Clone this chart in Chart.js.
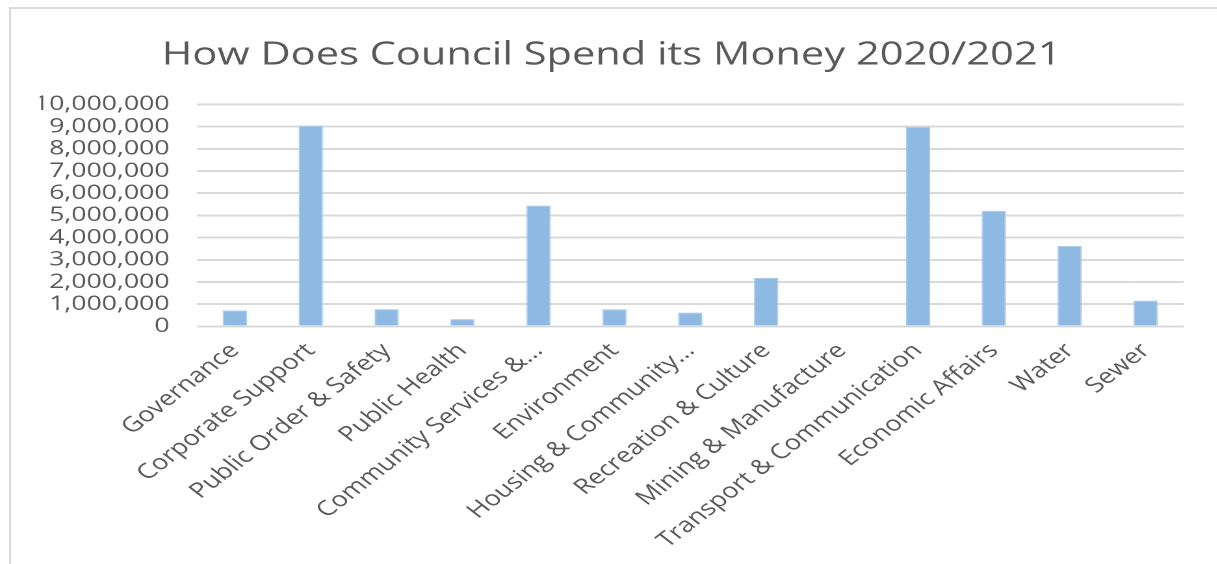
<!DOCTYPE html>
<html>
<head>
<meta charset="utf-8">
<script src="https://cdn.jsdelivr.net/npm/chart.js@4/dist/chart.umd.min.js"></script>
<style>
  html, body { margin: 0; padding: 0; background: #fff; overflow: hidden; }
  #box {
    position: absolute; left: 9px; top: 7px;
    width: 1225px; height: 570px;
    border: 2px solid #d9d9d9; box-sizing: border-box;
  }
  /* the reference picture is stretched sideways, so the canvas is too */
  #myChart { display: block; transform: scaleX(1.3); transform-origin: 0 0; }
</style>
</head>
<body>
<div id="box"><canvas id="myChart" width="939" height="566"></canvas></div>
<script>
const categories = [
    'Governance', 'Corporate Support', 'Public Order & Safety', 'Public Health',
    'Community Services &...', 'Environment', 'Housing & Community...',
    'Recreation & Culture', 'Mining & Manufacture', 'Transport & Communication',
    'Economic Affairs', 'Water', 'Sewer'
];
const spending = [
    720000, 9040000, 780000, 330000, 5440000, 770000, 620000,
    2180000, 0, 8980000, 5210000, 3630000, 1160000
];
const yTicks = [0, 1000000, 2000000, 3000000, 4000000, 5000000,
    6000000, 7000000, 8000000, 9000000, 10000000];

let plot = () => {
    const ctx = document.getElementById('myChart');
    const dataset = {
        labels: categories,
        datasets: [{
            label: 'Spend',
            data: spending,
            backgroundColor: '#8DB9E2',
            borderColor: '#A9CBEB',
            borderWidth: 1,
            categoryPercentage: 1,
            barPercentage: 0.32
        }]
    };
    const config = {
        type: 'bar',
        data: dataset,
        options: {
            responsive: false,
            animation: false,
            devicePixelRatio: 2,
            layout: { padding: { left: 22, right: 37, top: 0, bottom: 10 } },
            plugins: {
                legend: { display: false },
                tooltip: { enabled: false },
                title: {
                    display: true,
                    text: 'How Does Council Spend its Money 2020/2021',
                    color: '#595959',
                    font: { family: 'Open Sans', size: 32, weight: 'normal' },
                    padding: { top: 27, bottom: 30 }
                }
            },
            scales: {
                x: {
                    grid: { display: false, drawTicks: false },
                    border: { display: false },
                    ticks: {
                        color: '#595959',
                        font: { family: 'Open Sans', size: 21 },
                        minRotation: 45,
                        maxRotation: 45,
                        autoSkip: false,
                        padding: 12
                    }
                },
                y: {
                    min: 0,
                    max: 10000000,
                    afterBuildTicks: (axis) => { axis.ticks = yTicks.map(v => ({ value: v })); },
                    afterFit: (axis) => { axis.width = 121; },
                    grid: { color: '#d9d9d9', lineWidth: 2, drawTicks: false },
                    border: { display: false },
                    ticks: {
                        color: '#595959',
                        font: { family: 'Open Sans', size: 20.5, lineHeight: 1 },
                        autoSkip: false,
                        padding: 21,
                        callback: (v) => Number(v).toLocaleString('en-US')
                    }
                }
            }
        }
    };
    const chart = new Chart(ctx, config);
}

plot();
</script>
</body>
</html>
